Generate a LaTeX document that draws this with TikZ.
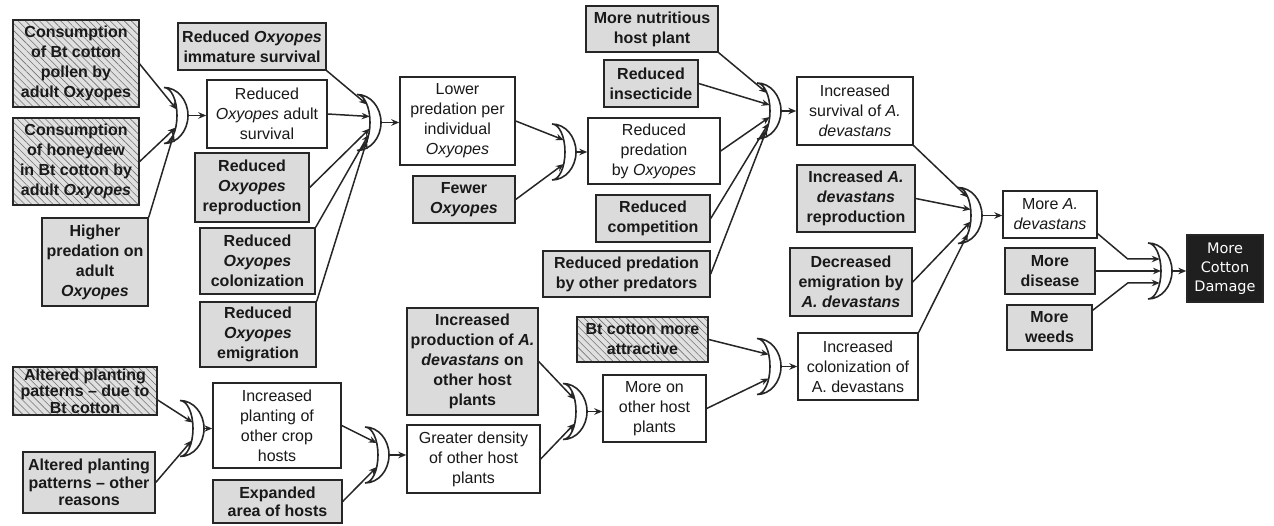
\documentclass[tikz,border=0pt]{standalone}
\usepackage{fontspec}
\setmainfont{Liberation Sans}
\newfontfamily\dejavu{DejaVu Sans}
\usetikzlibrary{arrows.meta,patterns.meta}
\begin{document}
\begin{tikzpicture}[x=1pt,y=-1pt,
  box/.style={draw=black!85, line width=1.4pt, align=center, inner sep=1pt, text=black!90},
  sz/.style 2 args={minimum width=#1pt, minimum height=#2pt},
  wbox/.style={box, fill=white, font=\fontsize{16}{20}\selectfont},
  gbox/.style={box, fill=black!14, font=\fontsize{16}{20}\selectfont\bfseries},
  hbox/.style={box, preaction={fill=black!12}, pattern={Lines[angle=-45,distance=5pt,line width=0.6pt]}, pattern color=black!55, font=\fontsize{16}{20}\selectfont\bfseries},
  kbox/.style={box, fill=black!88, text=white, font=\dejavu\fontsize{14.5}{19}\selectfont},
  link/.style={line width=1.5pt, draw=black!85, -{Stealth[length=8pt,width=6.5pt]}},
  gate/.pic={
    \draw[line width=1.6pt, draw=black!85, fill=white] (0,-28)
      arc[start angle=-90, end angle=90, x radius=24, y radius=28]
      arc[start angle=90, end angle=-90, x radius=13, y radius=28] -- cycle;
    \coordinate (-out) at (24,0);
    \foreach \i in {1,...,9}{\coordinate (-\i) at ({13*sqrt(1-((\i-5)*6/28)^2)},{(\i-5)*6});}
  }
]
\useasboundingbox (0,0) rectangle (1274,526);

% boxes
\node[hbox, sz={126}{87}] (A1) at (76,63.5) {Consumption\\of Bt cotton\\pollen by\\adult Oxyopes};
\node[hbox, sz={126}{87}] (A2) at (76,161.5) {Consumption\\of honeydew\\in Bt cotton by\\adult \textit{Oxyopes}};
\node[gbox, sz={106}{88}] (A3) at (95,262) {Higher\\predation on\\adult\\\textit{Oxyopes}};
\node[gbox, sz={148}{47}] (B1) at (252,46.5) {Reduced \textit{Oxyopes}\\immature survival};
\node[wbox, sz={120}{68}] (B2) at (267,114) {Reduced\\\textit{Oxyopes} adult\\survival};
\node[gbox, sz={114}{69}] (B3) at (252,187.5) {Reduced\\\textit{Oxyopes}\\reproduction};
\node[gbox, sz={115}{66}] (B4) at (257.5,261) {Reduced\\\textit{Oxyopes}\\colonization};
\node[gbox, sz={116}{65}] (B5) at (258,334.5) {Reduced\\\textit{Oxyopes}\\emigration};
\node[wbox, sz={115}{88}] (C1) at (457.5,121) {Lower\\predation per\\individual\\\textit{Oxyopes}};
\node[gbox, sz={102}{47}] (C2) at (464,199.5) {Fewer\\\textit{Oxyopes}};
\node[gbox, sz={132}{46}] (D1) at (652,29) {More nutritious\\host plant};
\node[gbox, sz={94}{47}] (D2) at (651,83.5) {Reduced\\insecticide};
\node[wbox, sz={132}{66}] (D3) at (654,151) {Reduced\\predation\\by \textit{Oxyopes}};
\node[gbox, sz={114}{47}] (D4) at (653,218.5) {Reduced\\competition};
\node[gbox, sz={167}{46}] (D5) at (626.5,274) {Reduced predation\\by other predators};
\node[wbox, sz={116}{68}] (E1) at (855,111) {Increased\\survival of \textit{A.}\\\textit{devastans}};
\node[gbox, sz={118}{67}] (E2) at (856,198.5) {Increased \textit{A.}\\\textit{devastans}\\reproduction};
\node[gbox, sz={122}{68}] (E3) at (851,282) {Decreased\\emigration by\\\textit{A. devastans}};
\node[wbox, sz={120}{67}] (E4) at (858,366.5) {Increased\\colonization of\\A. devastans};
\node[wbox, sz={94}{47}] (F1) at (1050,214.5) {More \textit{A.}\\\textit{devastans}};
\node[gbox, sz={90}{46}] (F2) at (1050,271) {More\\disease};
\node[gbox, sz={85}{45}] (F3) at (1049.5,327.5) {More\\weeds};
\node[kbox, sz={76}{67}] (Z) at (1225,268.5) {More\\Cotton\\Damage};
\node[hbox, sz={144}{48}, inner ysep=0pt, font=\fontsize{16}{16.5}\selectfont\bfseries] (L1) at (85,391) {Altered planting\\patterns -- due to\\Bt cotton};
\node[gbox, sz={132}{61}, font=\fontsize{16}{17.5}\selectfont\bfseries] (L2) at (89,482.5) {Altered planting\\patterns -- other\\reasons};
\node[wbox, sz={128}{85}] (M1) at (277,425.5) {Increased\\planting of\\other crop\\hosts};
\node[gbox, sz={129}{43}, font=\fontsize{16}{18}\selectfont\bfseries] (M2) at (277.5,501.5) {Expanded\\area of hosts};
\node[gbox, sz={131}{107}] (N1) at (472.5,361.5) {Increased\\production of \textit{A.}\\\textit{devastans} on\\other host\\plants};
\node[wbox, sz={133}{68}] (N2) at (473.5,459) {Greater density\\of other host\\plants};
\node[hbox, sz={131}{45}] (O1) at (642.5,339.5) {Bt cotton more\\attractive};
\node[wbox, sz={103}{67}] (O2) at (654.5,408.5) {More on\\other host\\plants};

% gates
\pic (g1) at (164,115.5) {gate};
\pic (g2) at (357,122.5) {gate};
\pic (g3) at (552,152) {gate};
\pic (g4) at (757,111) {gate};
\pic (g5) at (958,215.5) {gate};
\pic (g6) at (1148,271) {gate};
\pic (g7) at (180,428.5) {gate};
\pic (g8) at (365,455) {gate};
\pic (g9) at (563,411.5) {gate};
\pic (g10) at (757,366.5) {gate};

% inputs
\draw[link] (A1.east) -- (g1-4);
\draw[link] (A2.east) -- (g1-7);
\draw[link] (A3.north east) -- (g1-8);
\draw[link] (B1.south east) -- (g2-2);
\draw[link] (B2.east) -- (g2-4);
\draw[link] (B3.east) -- (g2-6);
\draw[link] (B4.north east) -- (g2-7);
\draw[link] (B5.north east) -- (g2-8);
\draw[link] (C1.east) -- (g3-3);
\draw[link] (C2.east) -- (g3-7);
\draw[link] (D1.south east) -- (g4-2);
\draw[link] (D2.east) -- (g4-4);
\draw[link] (D3.east) -- (g4-6);
\draw[link] (D4.east) -- (g4-7);
\draw[link] (D5.east) -- (g4-8);
\draw[link] (E1.south east) -- (g5-2);
\draw[link] (E2.east) -- (g5-4);
\draw[link] (E3.east) -- (g5-6);
\draw[link] (E4.north east) -- (g5-8);
\draw[link] ([yshift=5pt]F1.south east) -- ([xshift=-32pt]g6-3) -- (g6-3);
\draw[link] (F2.east) -- (g6-5);
\draw[link] ([yshift=-6pt]F3.north east) -- ([xshift=-32pt]g6-7) -- (g6-7);
\draw[link] ([yshift=-9pt]L1.east) -- (g7-4);
\draw[link] (L2.east) -- (g7-7);
\draw[link] (M1.east) -- (g8-3);
\draw[link] (M2.east) -- (g8-7);
\draw[link] (N1.east) -- (g9-3);
\draw[link] (N2.east) -- (g9-7);
\draw[link] (O1.east) -- (g10-3);
\draw[link] (O2.east) -- (g10-7);

% outputs
\draw[link] (g1-out) -- (g1-out -| B2.west);
\draw[link] (g2-out) -- (g2-out -| C1.west);
\draw[link] (g3-out) -- (g3-out -| D3.west);
\draw[link] (g4-out) -- (g4-out -| E1.west);
\draw[link] (g5-out) -- (g5-out -| F1.west);
\draw[link] (g6-out) -- (g6-out -| Z.west);
\draw[link] (g7-out) -- (g7-out -| M1.west);
\draw[link] (g8-out) -- (g8-out -| N2.west);
\draw[link] (g9-out) -- (g9-out -| O2.west);
\draw[link] (g10-out) -- (g10-out -| E4.west);
\end{tikzpicture}
\end{document}
